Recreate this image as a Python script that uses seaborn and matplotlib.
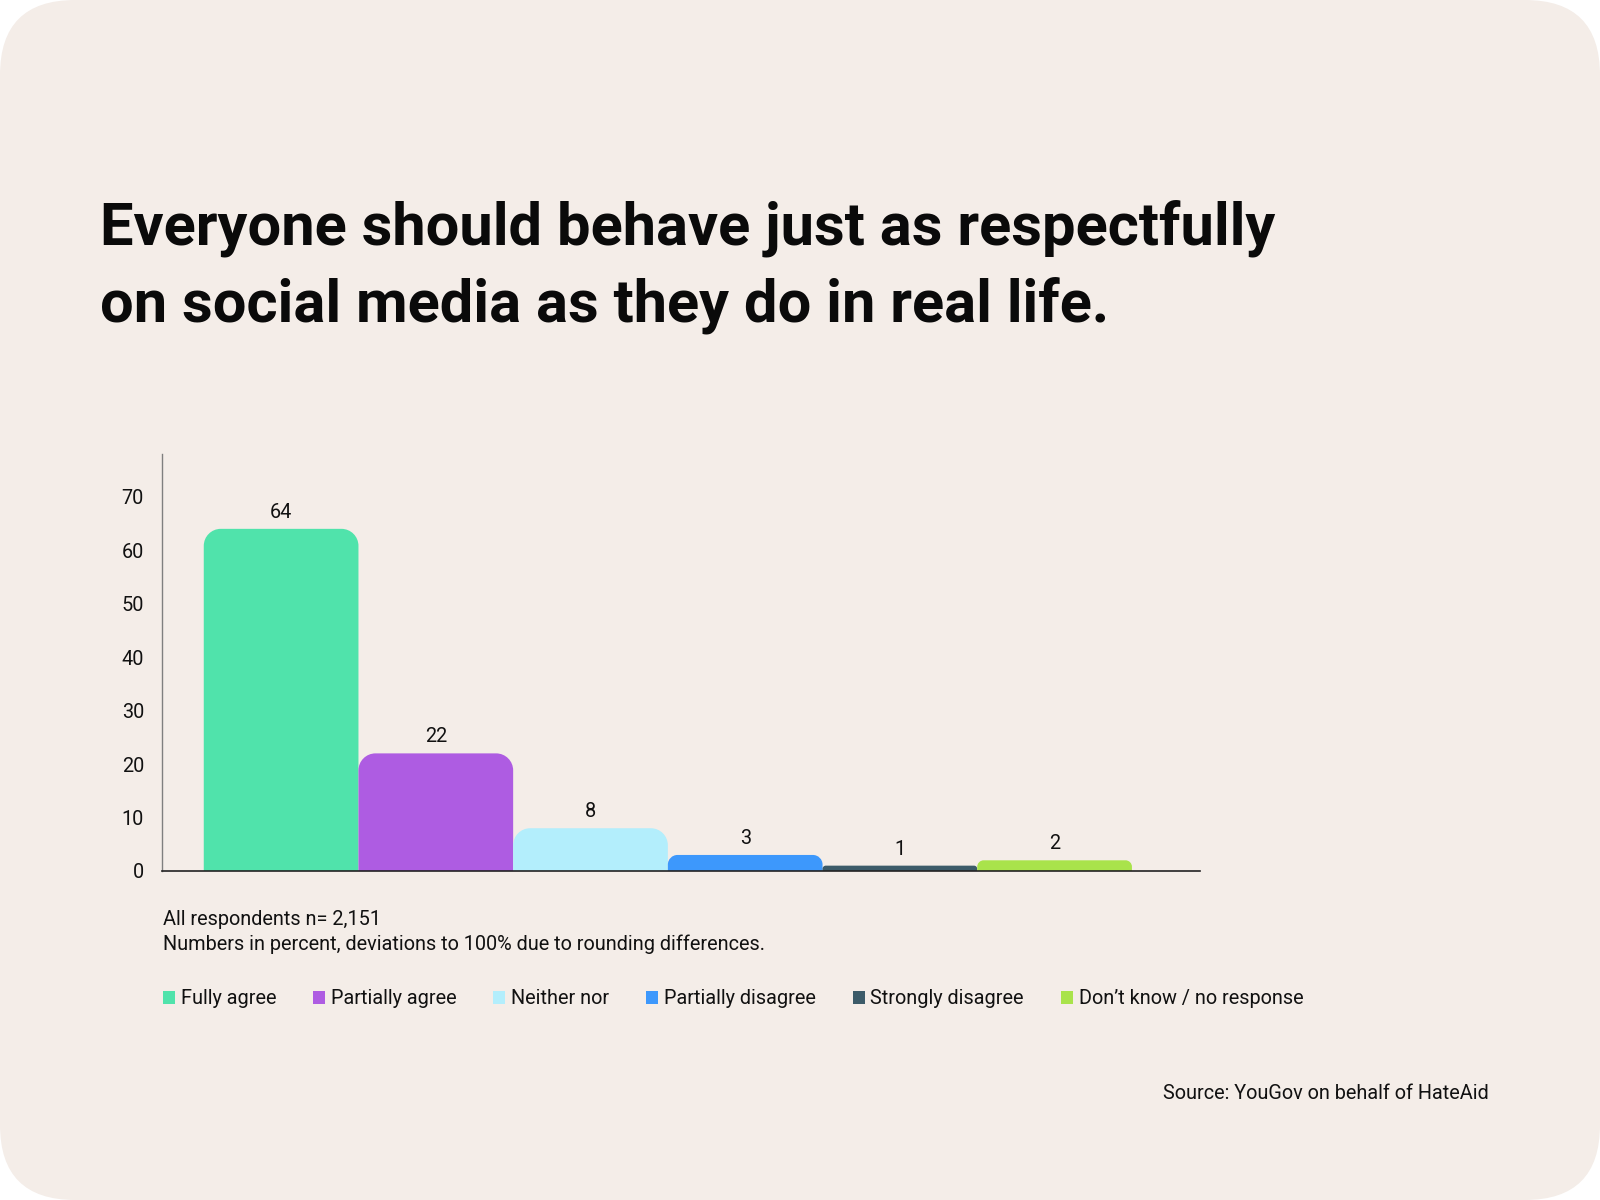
import matplotlib.pyplot as plt
import seaborn as sns
from matplotlib.patches import FancyBboxPatch, PathPatch, Patch
from matplotlib.path import Path
from matplotlib.transforms import IdentityTransform

# data
categories = ['Fully agree', 'Partially agree', 'Neither nor', 'Partially disagree',
              'Strongly disagree', 'Don’t know / no response']
values = [64, 22, 8, 3, 1, 2]
colors = ['#50E3AB', '#AE5CE2', '#B3EEFC', '#3D98FC', '#3C5B69', '#A9E34B']
y_ticks = [0, 10, 20, 30, 40, 50, 60, 70]

title = 'Everyone should behave just as respectfully\non social media as they do in real life.'
note = 'All respondents n= 2,151\nNumbers in percent, deviations to 100% due to rounding differences.'
source = 'Source: YouGov on behalf of HateAid'

BG = '#F4EDE8'
W, H = 1600, 1200
FS = 14.3

sns.set_style('white')
plt.rcParams['font.family'] = ['Roboto', 'DejaVu Sans']

fig = plt.figure(figsize=(W / 100, H / 100), dpi=100)
fig.patch.set_facecolor('white')
card = FancyBboxPatch((0, 0), W, H, boxstyle='round,pad=0,rounding_size=75',
                      transform=IdentityTransform(), facecolor=BG,
                      edgecolor='none', zorder=-10)
fig.add_artist(card)

ax = fig.add_axes([162 / W, 1 - 871 / H, (1200 - 162) / W, (871 - 454) / H])
ax.patch.set_visible(False)

sns.barplot(x=categories, y=values, hue=categories, palette=colors, width=1.0,
            saturation=1, legend=False, ax=ax)
ax.set_xlim(-0.77, 5.94)
ax.set_ylim(0, 78)

for c in ax.containers:
    ax.bar_label(c, fmt='%d', padding=5, fontsize=FS, color='#111111')

# swap the plain rectangles for bars with rounded top corners
px_x = ax.bbox.width / (5.94 + 0.77)
px_y = ax.bbox.height / 78
k = 0.5523
for bar in list(ax.patches):
    x0, w, h = bar.get_x(), bar.get_width(), bar.get_height()
    fc = bar.get_facecolor()
    bar.remove()
    r = min(17, h * px_y * 0.6)
    rx, ry = r / px_x, r / px_y
    verts = [(x0, 0), (x0, h - ry),
             (x0, h - ry + k * ry), (x0 + rx - k * rx, h), (x0 + rx, h),
             (x0 + w - rx, h),
             (x0 + w - rx + k * rx, h), (x0 + w, h - ry + k * ry), (x0 + w, h - ry),
             (x0 + w, 0), (x0, 0)]
    codes = [Path.MOVETO, Path.LINETO,
             Path.CURVE4, Path.CURVE4, Path.CURVE4,
             Path.LINETO,
             Path.CURVE4, Path.CURVE4, Path.CURVE4,
             Path.LINETO, Path.CLOSEPOLY]
    ax.add_patch(PathPatch(Path(verts, codes), facecolor=fc, edgecolor='none', lw=0, zorder=2))

sns.despine(ax=ax)
ax.spines['left'].set_color('#7f7f7f')
ax.spines['left'].set_linewidth(1)
ax.spines['bottom'].set_color('#222222')
ax.spines['bottom'].set_linewidth(1.2)
ax.spines['bottom'].set_zorder(3)
ax.set_yticks(y_ticks)
ax.set_xticks([])
ax.set_xlabel('')
ax.set_ylabel('')
ax.tick_params(axis='y', length=0, pad=13, labelsize=FS, labelcolor='#111111')

fig.text(100 / W, 1 - 321 / H, title, fontsize=42.9, fontweight='bold',
         va='baseline', ha='left', linespacing=1.43, color='#0a0a0a')
fig.text(163 / W, 1 - 950 / H, note, fontsize=FS, va='baseline', ha='left',
         linespacing=1.36, color='#111111')

handles = [Patch(facecolor=c, edgecolor='none') for c in colors]
fig.legend(handles, categories, loc='center left', bbox_to_anchor=(163 / W, 1 - 999 / H),
           ncol=6, frameon=False, fontsize=FS, handlelength=0.6, handleheight=0.6,
           handletextpad=0.3, columnspacing=1.85, borderpad=0, borderaxespad=0,
           labelcolor='#111111')

fig.text(1489 / W, 1 - 1099 / H, source, fontsize=FS, ha='right', va='baseline',
         color='#111111')

fig.savefig('out.png', dpi=100, facecolor=fig.get_facecolor())
